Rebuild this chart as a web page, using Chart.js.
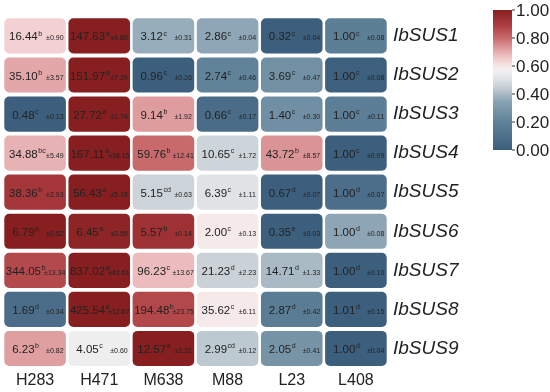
<!DOCTYPE html>
<html>
<head>
<meta charset="utf-8">
<script src="https://cdn.jsdelivr.net/npm/chart.js@4/dist/chart.umd.min.js"></script>
<style>
  body { margin: 0; background: #fff; }
  #wrap { width: 550px; height: 392px; }
</style>
</head>
<body>
<div id="wrap"><canvas id="heatChart"></canvas></div>
<script>
// samples (columns) and genes (rows)
const samples = ['H283', 'H471', 'M638', 'M88', 'L23', 'L408'];
const genes = ['IbSUS1', 'IbSUS2', 'IbSUS3', 'IbSUS4', 'IbSUS5', 'IbSUS6', 'IbSUS7', 'IbSUS8', 'IbSUS9'];

// relative expression, one row per gene
const means = [
  [16.44, 147.63, 3.12, 2.86, 0.32, 1.00],
  [35.10, 151.97, 0.96, 2.74, 3.69, 1.00],
  [0.48, 27.72, 9.14, 0.66, 1.40, 1.00],
  [34.88, 167.11, 59.76, 10.65, 43.72, 1.00],
  [38.36, 56.43, 5.15, 6.39, 0.67, 1.00],
  [6.79, 6.45, 5.57, 2.00, 0.35, 1.00],
  [344.05, 837.02, 96.23, 21.23, 14.71, 1.00],
  [1.69, 425.54, 194.48, 35.62, 2.87, 1.01],
  [6.23, 4.05, 12.57, 2.99, 2.05, 1.00]
];
const sds = [
  [0.90, 4.89, 0.31, 0.04, 0.04, 0.08],
  [3.57, 7.29, 0.26, 0.46, 0.47, 0.08],
  [0.13, 1.74, 1.92, 0.17, 0.30, 0.11],
  [5.49, 38.15, 12.41, 1.72, 8.57, 0.09],
  [2.93, 5.18, 0.63, 1.11, 0.07, 0.07],
  [0.52, 0.59, 0.14, 0.13, 0.03, 0.08],
  [13.34, 42.61, 13.67, 2.23, 1.33, 0.10],
  [0.34, 12.67, 23.75, 6.11, 0.42, 0.15],
  [0.82, 0.60, 2.32, 0.12, 0.41, 0.04]
];
const letters = [
  ['b', 'a', 'c', 'c', 'c', 'c'],
  ['b', 'a', 'c', 'c', 'c', 'c'],
  ['c', 'a', 'b', 'c', 'c', 'c'],
  ['bc', 'a', 'b', 'c', 'b', 'c'],
  ['b', 'a', 'cd', 'c', 'd', 'd'],
  ['a', 'a', 'b', 'c', 'e', 'd'],
  ['b', 'a', 'c', 'd', 'd', 'd'],
  ['d', 'a', 'b', 'c', 'd', 'd'],
  ['b', 'c', 'a', 'cd', 'd', 'd']
];
const colorbarTicks = [0, 0.2, 0.4, 0.6, 0.8, 1.0];

// colour map (blue - white - red)
const stops = [
  [0.00, [61, 95, 126]],
  [0.20, [95, 129, 152]],
  [0.35, [138, 163, 179]],
  [0.45, [200, 209, 215]],
  [0.52, [228, 231, 233]],
  [0.57, [244, 241, 240]],
  [0.63, [246, 216, 217]],
  [0.70, [230, 174, 176]],
  [0.80, [200, 105, 107]],
  [0.90, [170, 58, 62]],
  [1.00, [135, 31, 32]]
];
function cmap(t) {
  t = Math.max(0, Math.min(1, t));
  for (let i = 1; i < stops.length; i++) {
    if (t <= stops[i][0]) {
      const [t0, c0] = stops[i - 1];
      const [t1, c1] = stops[i];
      const f = (t - t0) / (t1 - t0);
      const c = c0.map((v, k) => Math.round(v + (c1[k] - v) * f));
      return `rgb(${c[0]},${c[1]},${c[2]})`;
    }
  }
  return 'rgb(135,31,32)';
}

// colour = per-row min-max of log10 values
const scaled = means.map((row) => {
  const lg = row.map((v) => Math.log10(v));
  const lo = Math.min(...lg), hi = Math.max(...lg);
  return lg.map((v) => (v - lo) / (hi - lo));
});

const FONT = "'Liberation Sans', Arial, sans-serif";

const datasets = genes.map((g, i) => ({
  label: g,
  data: samples.map(() => [i + 0.05, i + 0.95]),
  backgroundColor: scaled[i].map(cmap),
  borderWidth: 0,
  borderRadius: 5,
  borderSkipped: false,
  barPercentage: 0.96,
  categoryPercentage: 1,
  grouped: false,
  yAxisID: 'y'
}));

// cell texts: mean + superscript letter, small sd on the right
const cellText = {
  id: 'cellText',
  afterDatasetsDraw(chart) {
    const ctx = chart.ctx;
    ctx.save();
    ctx.fillStyle = '#222';
    ctx.textBaseline = 'alphabetic';
    chart.data.datasets.forEach((ds, i) => {
      chart.getDatasetMeta(i).data.forEach((bar, j) => {
        const val = means[i][j].toFixed(2);
        const sup = letters[i][j];
        const sd = '±' + sds[i][j].toFixed(2);
        const left = bar.x - bar.width / 2;
        const cy = (bar.y + bar.base) / 2;
        ctx.font = `11.5px ${FONT}`;
        const w1 = ctx.measureText(val).width;
        const vx = left + bar.width * 0.31 - w1 / 2;
        ctx.textAlign = 'left';
        ctx.fillText(val, vx, cy + 4.5);
        ctx.font = `7px ${FONT}`;
        ctx.fillText(sup, vx + w1 + 0.5, cy);
        ctx.textAlign = 'center';
        ctx.fillText(sd, left + bar.width * 0.82, cy + 4.5);
      });
    });
    ctx.restore();
  }
};

// colour bar on the right
const colorBar = {
  id: 'colorBar',
  afterDraw(chart) {
    const ctx = chart.ctx;
    const x = 493, top = 10, w = 19, h = 140;
    ctx.save();
    const grad = ctx.createLinearGradient(0, top + h, 0, top);
    for (let k = 0; k <= 50; k++) grad.addColorStop(k / 50, cmap(k / 50));
    ctx.fillStyle = grad;
    ctx.fillRect(x, top, w, h);
    ctx.strokeStyle = '#333';
    ctx.lineWidth = 1;
    ctx.fillStyle = '#222';
    ctx.font = `17px ${FONT}`;
    ctx.textBaseline = 'middle';
    colorbarTicks.forEach((t) => {
      const y = top + h - t * h;
      ctx.beginPath();
      ctx.moveTo(x + w, y);
      ctx.lineTo(x + w + 3, y);
      ctx.stroke();
      ctx.fillText(t.toFixed(2), x + w + 4, y + 1);
    });
    ctx.restore();
  }
};

new Chart(document.getElementById('heatChart'), {
  type: 'bar',
  data: { labels: samples, datasets },
  options: {
    responsive: true,
    maintainAspectRatio: false,
    animation: false,
    layout: { padding: { left: 3, top: 4, right: 0, bottom: 0 } },
    plugins: { legend: { display: false }, tooltip: { enabled: false } },
    scales: {
      x: {
        grid: { display: false, drawTicks: false },
        border: { display: false },
        ticks: { color: '#222', font: { family: FONT, size: 16 }, padding: 3 },
        afterFit(scale) { scale.height = 24; }
      },
      y: {
        type: 'linear',
        display: false,
        min: 0,
        max: 9,
        reverse: true
      },
      y2: {
        type: 'category',
        labels: genes,
        position: 'right',
        offset: true,
        grid: { display: false, drawTicks: false },
        border: { display: false },
        ticks: { color: '#222', font: { family: FONT, size: 19, style: 'italic' }, padding: 5 },
        afterFit(scale) { scale.width = 162; }
      }
    }
  },
  plugins: [cellText, colorBar]
});
</script>
</body>
</html>
